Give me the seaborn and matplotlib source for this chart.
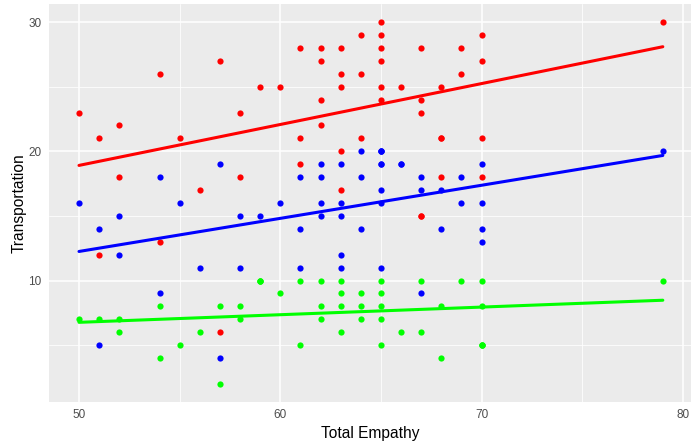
import matplotlib
matplotlib.use("Agg")
import matplotlib.pyplot as plt
import seaborn as sns
import pandas as pd

# Total Empathy (x) and Transportation values (y) for each of the three series
# (a few values are overlapping points hidden behind visible ones)
red_x = [50, 51, 51, 52, 52, 54, 54, 55, 56, 57, 57, 58, 58, 59, 60,
         61, 61, 61, 62, 62, 62, 62, 63, 63, 63, 63, 63, 64, 64, 64,
         65, 65, 65, 65, 65, 65, 66, 67, 67, 67, 67, 67, 68, 68, 68, 68,
         69, 69, 70, 70, 70, 70, 79]
red_y = [23, 21, 12, 22, 18, 26, 13, 21, 17, 27, 6, 23, 18, 25, 25,
         28, 21, 19, 28, 27, 24, 22, 28, 26, 25, 20, 17, 29, 26, 21,
         30, 29, 28, 27, 25, 24, 25, 28, 24, 23, 15, 15, 25, 21, 21, 18,
         28, 26, 29, 27, 21, 18, 30]

blue_x = [50, 51, 51, 52, 52, 54, 54, 55, 56, 57, 57, 58, 58, 59, 60,
          61, 61, 61, 62, 62, 62, 62, 63, 63, 63, 63, 63, 64, 64, 64,
          65, 65, 65, 65, 65, 65, 65, 65, 66, 66, 67, 67, 67, 68, 68, 69, 69,
          70, 70, 70, 70, 79]
blue_y = [16, 14, 5, 15, 12, 18, 9, 16, 11, 19, 4, 15, 11, 15, 16,
          18, 14, 11, 19, 18, 16, 15, 19, 16, 15, 12, 11, 20, 18, 14,
          20, 20, 20, 19, 19, 17, 16, 11, 19, 19, 18, 17, 9, 17, 14, 18, 16,
          19, 16, 14, 13, 20]

green_x = [50, 51, 52, 52, 54, 54, 55, 56, 57, 57, 58, 58, 59, 59, 59, 60,
           61, 61, 62, 62, 62, 63, 63, 63, 63, 64, 64, 64,
           65, 65, 65, 65, 65, 66, 67, 67, 68, 68, 69, 70, 70, 70, 70, 70, 79]
green_y = [7, 7, 7, 6, 8, 4, 5, 6, 8, 2, 8, 7, 10, 10, 10, 9,
           10, 5, 10, 8, 7, 10, 9, 8, 6, 9, 8, 7,
           10, 9, 8, 7, 5, 6, 10, 6, 8, 4, 10, 10, 8, 5, 5, 5, 10]

series = {"red": (red_x, red_y, "#FF0000"),
          "blue": (blue_x, blue_y, "#0000FF"),
          "green": (green_x, green_y, "#00FF00")}

x_ticks = [50, 60, 70, 80]
y_ticks = [10, 20, 30]
x_minor = [55, 65, 75]
y_minor = [5, 15, 25]

frames = []
for name, (xs, ys, _) in series.items():
    frames.append(pd.DataFrame({"Total Empathy": xs, "Transportation": ys, "series": name}))
df = pd.concat(frames, ignore_index=True)

sns.set_style("white")
plt.rcParams["font.family"] = ["Liberation Sans", "DejaVu Sans"]

fig = plt.figure(figsize=(6.91, 4.44), dpi=100)
ax = fig.add_axes([49 / 691, 1 - 402 / 444, 642 / 691, 398 / 444])
ax.set_facecolor("#EBEBEB")

for name, (_, _, col) in series.items():
    sub = df[df["series"] == name]
    sns.scatterplot(data=sub, x="Total Empathy", y="Transportation", ax=ax,
                    color=col, s=20, linewidth=0, zorder=3)
    sns.regplot(data=sub, x="Total Empathy", y="Transportation", ax=ax,
                scatter=False, ci=None, color=col, truncate=True,
                line_kws={"linewidth": 2.2, "zorder": 4})

ax.set_xlim(48.51, 80.40)
ax.set_ylim(0.6, 31.4)
ax.set_xticks(x_ticks)
ax.set_yticks(y_ticks)
ax.set_xticks(x_minor, minor=True)
ax.set_yticks(y_minor, minor=True)
ax.grid(which="major", color="white", linewidth=1.1, zorder=0)
ax.grid(which="minor", color="white", linewidth=0.55, zorder=0)
ax.set_axisbelow(True)
for sp in ax.spines.values():
    sp.set_visible(False)
ax.tick_params(which="major", length=2.8, width=0.8, color="#333333",
               labelcolor="#4D4D4D", labelsize=8.5, direction="out", pad=2.5)
ax.tick_params(which="minor", length=0)
ax.set_xlabel("Total Empathy", fontsize=11.2, color="black", labelpad=3)
ax.set_ylabel("Transportation", fontsize=11.2, color="black", labelpad=1)

fig.savefig("out.png", dpi=100)
